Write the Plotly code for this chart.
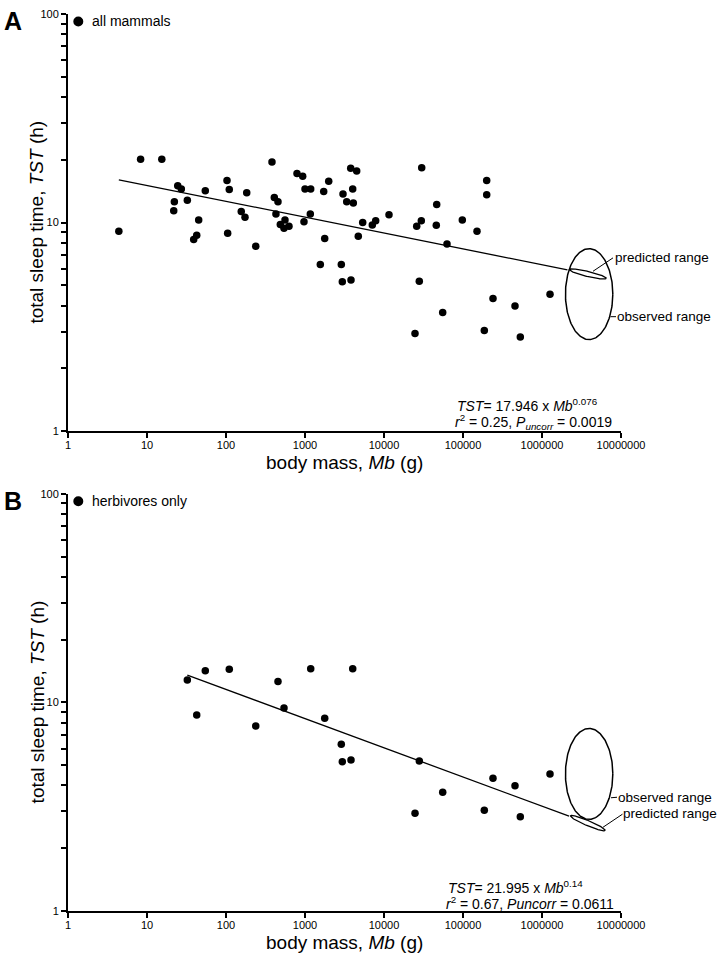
import numpy as np
import plotly.graph_objects as go

# ---------------- data ----------------
mass_all = [4.4, 8.3, 15.4, 24.5, 27.2, 22.2, 21.8, 32.4, 54.7, 45.1, 42.6, 39.0,
            105, 103, 110, 183, 156, 174, 238, 382, 409, 455, 429, 487, 558, 542, 627,
            792, 935, 1000, 1181, 971, 1167, 1995, 1725, 1776, 1562, 2881, 2967, 3822,
            3027, 3372, 4088, 4017, 3789, 4511, 4727, 5375, 7110, 7850,
            11570, 30010, 199500, 199500, 46470, 29670, 25940, 45920, 98000, 150400,
            62740, 27980, 55340, 24690, 186100, 239700, 455200, 531400, 1263000]
tst_all = [9.1, 20.1, 20.1, 15.0, 14.5, 12.6, 11.4, 12.8, 14.2, 10.3, 8.7, 8.3,
           8.9, 15.9, 14.4, 13.9, 11.3, 10.6, 7.7, 19.5, 13.2, 12.6, 11.0, 9.8, 10.3, 9.4, 9.6,
           17.2, 16.7, 14.5, 14.5, 10.1, 11.0, 15.8, 14.1, 8.4, 6.3, 6.3, 5.2, 5.3,
           13.7, 12.6, 12.4, 14.5, 18.2, 17.7, 8.6, 10.0, 9.75, 10.2,
           10.9, 18.3, 15.9, 13.6, 12.2, 10.2, 9.6, 9.7, 10.3, 9.1,
           7.9, 5.24, 3.71, 2.94, 3.04, 4.33, 3.98, 2.83, 4.54]

mass_herb = [32.4, 42.6, 54.7, 110, 238, 455, 542, 1181, 1776, 2881, 2967, 3822, 4017,
             24690, 27980, 55340, 186100, 239700, 455200, 531400, 1263000]
tst_herb = [12.8, 8.7, 14.2, 14.4, 7.7, 12.6, 9.4, 14.5, 8.4, 6.3, 5.2, 5.3, 14.5,
            2.94, 5.24, 3.71, 3.04, 4.33, 3.98, 2.83, 4.54]

# power-law fits TST = a * Mb^b
fit_all = (17.946, -0.076)
fit_herb = (21.995, -0.14)
fit_end_mass = [2.1e6, 2.2e6]

# observed / predicted range for the largest mammals
obs_mass_center = 3.95e6
obs_mass_half_dec = 0.30
obs_tst_range = [2.75, 7.5]
pred_mass_center = 3.8e6

x_tickvals = [1, 10, 100, 1000, 10000, 100000, 1000000, 10000000]
x_ticktext = ["1", "10", "100", "1000", "10000", "100000", "1000000", "10000000"]
y_tickvals = [1, 10, 100]
y_ticktext = ["1", "10", "100"]
y_minor = [2, 3, 4, 5, 6, 7, 8, 9, 20, 30, 40, 50, 60, 70, 80, 90]

panel_labels = ["A", "B"]
group_labels = ["all mammals", "herbivores only"]
eq1 = ["<i>TST</i>= 17.946 x <i>Mb</i><sup>0.076</sup>",
       "<i>TST</i>= 21.995 x <i>Mb</i><sup>0.14</sup>"]
eq2 = ["<i>r</i><sup>2</sup> = 0.25, <i>P<sub>uncorr</sub></i> = 0.0019",
       "<i>r</i><sup>2</sup> = 0.67, <i>Puncorr</i> = 0.0611"]

# ---------------- layout geometry (pixels) ----------------
W, H = 724, 959
L, R = 68, 621
T, B = 8, 911
PW, PH = R - L, B - T
panel_top = [8, 491]
panel_bot = [428, 911]
KX = PW / 7.0          # px per decade (x)
KY = (428 - 8) / 2.0   # px per decade (y)

def px(x):
    return (x - L) / PW

def py(y):
    return (B - y) / PH

FONT = "Liberation Sans, Arial, Helvetica, sans-serif"

fig = go.Figure()
datasets = [(mass_all, tst_all, fit_all), (mass_herb, tst_herb, fit_herb)]
for i, (mx, ty, (a, b)) in enumerate(datasets):
    xa = "x" if i == 0 else "x2"
    ya = "y" if i == 0 else "y2"
    fig.add_trace(go.Scatter(x=mx, y=ty, mode="markers", xaxis=xa, yaxis=ya,
                             marker=dict(color="black", size=7.5), hoverinfo="skip"))
    xs = np.array([min(mx), fit_end_mass[i]])
    fig.add_trace(go.Scatter(x=xs, y=a * xs ** b, mode="lines", xaxis=xa, yaxis=ya,
                             line=dict(color="black", width=1.3), hoverinfo="skip"))
    # observed ellipse
    t = np.linspace(0, 2 * np.pi, 200)
    cxl = np.log10(obs_mass_center)
    lo, hi = np.log10(obs_tst_range[0]), np.log10(obs_tst_range[1])
    cyl, ayl = (lo + hi) / 2, (hi - lo) / 2
    fig.add_trace(go.Scatter(x=10 ** (cxl + obs_mass_half_dec * np.cos(t)),
                             y=10 ** (cyl + ayl * np.sin(t)), mode="lines",
                             xaxis=xa, yaxis=ya, line=dict(color="black", width=1.5),
                             hoverinfo="skip"))
    # predicted ellipse (thin, along the fitted line)
    pc = np.log10(pred_mass_center)
    pyc = np.log10(a * pred_mass_center ** b)
    theta = np.deg2rad([13.5, 23.0][i])
    aa, bb = [19.0, 18.8][i], 2.6
    dx = aa * np.cos(t) * np.cos(theta) - bb * np.sin(t) * np.sin(theta)
    dy = aa * np.cos(t) * np.sin(theta) + bb * np.sin(t) * np.cos(theta)
    fig.add_trace(go.Scatter(x=10 ** (pc + dx / KX), y=10 ** (pyc - dy / KY),
                             mode="lines", xaxis=xa, yaxis=ya,
                             line=dict(color="black", width=1.3), hoverinfo="skip"))

axis_common = dict(showline=True, linecolor="black", linewidth=2, showgrid=False,
                   zeroline=False, ticks="outside", ticklen=5, tickwidth=1.5,
                   tickcolor="black", tickfont=dict(size=11, color="black", family=FONT))
xcfg = dict(type="log", range=[0, 7], domain=[0, 1], tickmode="array",
            tickvals=x_tickvals, ticktext=x_ticktext, ticklabelstandoff=-2, **axis_common)
ycfg = dict(type="log", range=[0, 2], tickmode="array", tickvals=y_tickvals,
            ticktext=y_ticktext,
            minor=dict(tickmode="array", tickvals=y_minor, ticks="outside", ticklen=5,
                       tickwidth=1.5, tickcolor="black", showgrid=False),
            **axis_common)

fig.update_layout(
    width=W, height=H,
    margin=dict(l=L, r=W - R, t=T, b=H - B, pad=0),
    paper_bgcolor="white", plot_bgcolor="white",
    showlegend=False,
    font=dict(family=FONT, color="black"),
    xaxis=dict(anchor="y", **xcfg),
    xaxis2=dict(anchor="y2", **xcfg),
    yaxis=dict(anchor="x", domain=[py(428), 1], **ycfg),
    yaxis2=dict(anchor="x2", domain=[0, py(491)], **ycfg),
)

ann = []
shapes = []
for i in range(2):
    off = panel_top[i] - panel_top[0]
    bot = panel_bot[i]
    mid = (panel_top[i] + panel_bot[i]) / 2
    ann.append(dict(x=px(12.5), y=py(15 + off), xref="paper", yref="paper",
                    text="<b>%s</b>" % panel_labels[i], showarrow=False,
                    font=dict(size=25, family=FONT), xanchor="center", yanchor="middle"))
    shapes.append(dict(type="circle", xref="paper", yref="paper", xsizemode="pixel",
                       ysizemode="pixel", xanchor=px(78.3), yanchor=py(15.5 + off),
                       x0=-5, x1=5, y0=-5, y1=5, fillcolor="black",
                       line=dict(color="black", width=0)))
    ann.append(dict(x=px(90), y=py(15.5 + off), xref="paper", yref="paper",
                    text=group_labels[i], showarrow=False, font=dict(size=14, family=FONT),
                    xanchor="left", yanchor="middle"))
    ann.append(dict(x=px(37), y=py(mid), xref="paper", yref="paper",
                    text="total sleep time, <i>TST</i> (h)", textangle=-90,
                    showarrow=False, font=dict(size=19, family=FONT),
                    xanchor="center", yanchor="middle"))
    ann.append(dict(x=px((L + R) / 2), y=py(bot + 32), xref="paper", yref="paper",
                    text="body mass, <i>Mb</i> (g)", showarrow=False,
                    font=dict(size=19, family=FONT), xanchor="center", yanchor="middle"))
    ex = [455, 446][i]
    ann.append(dict(x=px(ex), y=py([401.7, 887][i]), xref="paper", yref="paper",
                    text=eq1[i], showarrow=False, font=dict(size=14, family=FONT),
                    xanchor="left", yanchor="middle"))
    ann.append(dict(x=px(ex - 2), y=py([418.3, 902.5][i]), xref="paper", yref="paper",
                    text=eq2[i], showarrow=False, font=dict(size=14, family=FONT),
                    xanchor="left", yanchor="middle"))

# range labels with leader lines
range_labels = [
    # (text, text_x, text_y, leader (x0,y0,x1,y1))
    ("predicted range", 613, 252.7, (593, 267, 613, 253.5)),
    ("observed range", 615, 312.7, (610.5, 312.7, 616, 312.7)),
    ("observed range", 616, 796.7, (611, 797, 617, 796.5)),
    ("predicted range", 621, 813.3, (603, 826.7, 622.5, 813.5)),
]
for txt, tx, ty, (x0, y0, x1, y1) in range_labels:
    ann.append(dict(x=px(tx), y=py(ty), xref="paper", yref="paper", text=txt,
                    showarrow=False, font=dict(size=13.5, family=FONT),
                    xanchor="left", yanchor="middle"))
    shapes.append(dict(type="line", xref="paper", yref="paper", x0=px(x0), y0=py(y0),
                       x1=px(x1), y1=py(y1), line=dict(color="black", width=1)))

fig.update_layout(annotations=ann, shapes=shapes)
fig.write_html("out.html", config={"displayModeBar": False},
               post_script="document.body.style.margin='0';document.body.style.padding='0';")
